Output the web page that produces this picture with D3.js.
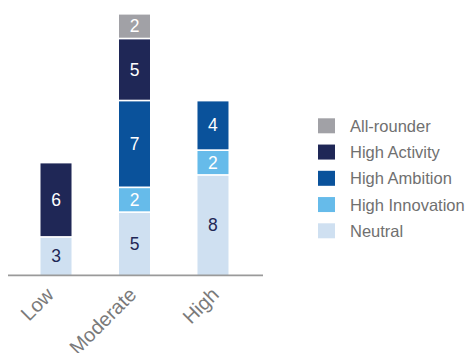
<!DOCTYPE html>
<html>
<head>
<meta charset="utf-8">
<script src="https://cdn.jsdelivr.net/npm/d3@7"></script>
<style>
  html, body { margin: 0; padding: 0; background: #fff; }
  svg { display: block; font-family: "Liberation Sans", Arial, Helvetica, sans-serif; }
</style>
</head>
<body>
<svg id="chart" width="469" height="353"></svg>
<script>
// ---- data ----
const categories = ["Low", "Moderate", "High"];
const seriesNames = ["Neutral", "High Innovation", "High Ambition", "High Activity", "All-rounder"];
const neutral        = [3, 5, 8];
const highInnovation = [0, 2, 2];
const highAmbition   = [0, 7, 4];
const highActivity   = [6, 5, 0];
const allRounder     = [0, 2, 0];
const legendOrder = ["All-rounder", "High Activity", "High Ambition", "High Innovation", "Neutral"];

const colors = {
  "Neutral": "#cfe0f1",
  "High Innovation": "#66bbea",
  "High Ambition": "#0a529b",
  "High Activity": "#1f2756",
  "All-rounder": "#a1a1a6"
};
const labelColors = {
  "Neutral": "#1f2756",
  "High Innovation": "#ffffff",
  "High Ambition": "#ffffff",
  "High Activity": "#ffffff",
  "All-rounder": "#ffffff"
};

const seriesValues = [neutral, highInnovation, highAmbition, highActivity, allRounder];
const table = categories.map((c, i) => {
  const row = { category: c };
  seriesNames.forEach((s, j) => row[s] = seriesValues[j][i]);
  return row;
});

const svg = d3.select("#chart");

const x = d3.scaleBand().domain(categories).range([7, 262]).paddingInner(0.605).paddingOuter(0.427);
const xLabel = d3.scalePoint().domain(categories).range([55, 220]);
const y = d3.scaleLinear().domain([0, 21]).range([275, 14.6]);

const stack = d3.stack().keys(seriesNames)(table);
const gap = 1.7;

const layers = svg.append("g").selectAll("g")
  .data(stack).join("g")
  .attr("fill", d => colors[d.key]);

layers.each(function(layer) {
  const g = d3.select(this);
  const segs = layer.filter(d => d[1] - d[0] > 0);
  g.selectAll("rect").data(segs).join("rect")
    .attr("x", d => x(d.data.category))
    .attr("width", x.bandwidth())
    .attr("y", d => y(d[1]))
    .attr("height", d => y(d[0]) - y(d[1]) - (d[0] > 0 ? gap : 0));
  g.selectAll("text").data(segs).join("text")
    .attr("x", d => x(d.data.category) + x.bandwidth() / 2)
    .attr("y", d => (y(d[1]) + y(d[0]) - (d[0] > 0 ? gap : 0)) / 2)
    .attr("text-anchor", "middle")
    .attr("dominant-baseline", "central")
    .attr("font-size", 17.5)
    .attr("fill", labelColors[layer.key])
    .text(d => d[1] - d[0]);
});

// axis line
svg.append("line")
  .attr("x1", 8).attr("x2", 263)
  .attr("y1", 275.4).attr("y2", 275.4)
  .attr("stroke", "#9a9a9a").attr("stroke-width", 1.7);

// category labels
svg.append("g").selectAll("text")
  .data(categories).join("text")
  .attr("transform", d => `translate(${xLabel(d)},296) rotate(-45)`)
  .attr("text-anchor", "end")
  .attr("font-size", 20)
  .attr("fill", "#7a7a7a")
  .text(d => d);

// legend
const legend = svg.append("g").attr("transform", "translate(318,118.3)");
const li = legend.selectAll("g").data(legendOrder).join("g")
  .attr("transform", (d, i) => `translate(0,${i * 26.25})`);
li.append("rect").attr("width", 17).attr("height", 15).attr("fill", d => colors[d]);
li.append("text")
  .attr("x", 32).attr("y", 7.5)
  .attr("dominant-baseline", "central")
  .attr("font-size", 16.5)
  .attr("fill", "#707070")
  .text(d => d);
</script>
</body>
</html>
